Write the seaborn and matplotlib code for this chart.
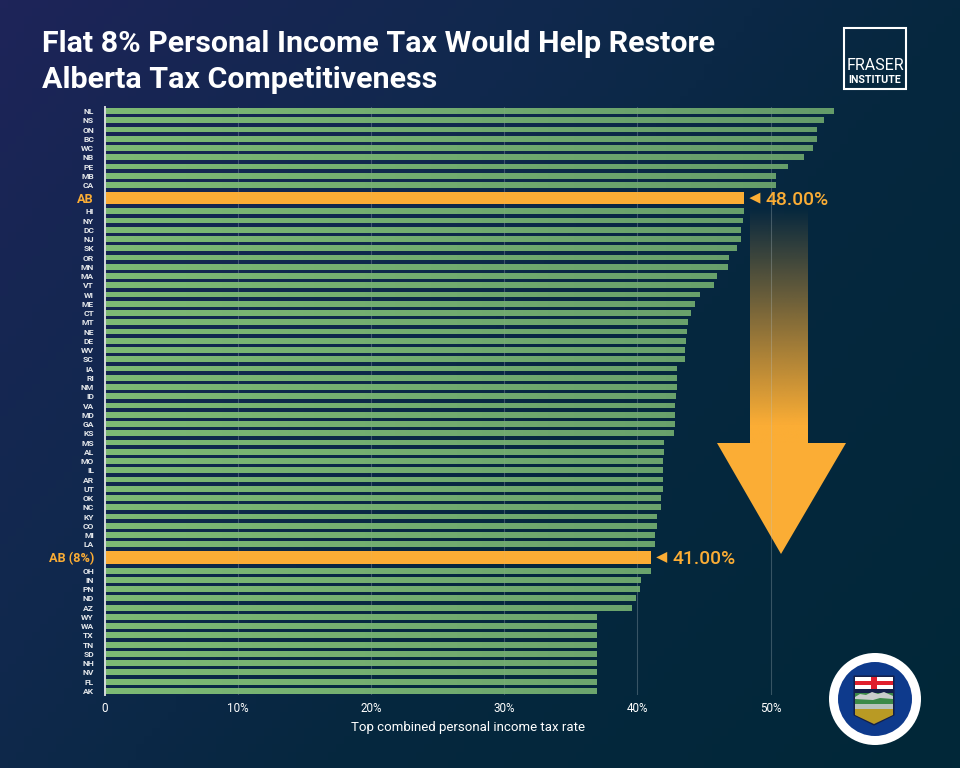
import numpy as np
import matplotlib
matplotlib.use("Agg")
import matplotlib.pyplot as plt
from matplotlib.patches import Circle, Polygon, Rectangle, PathPatch
from matplotlib.path import Path
from matplotlib.colors import LinearSegmentedColormap, to_rgb
import seaborn as sns

# ---------- data ----------
states = ["NL","NS","ON","BC","WC","NB","PE","MB","CA","AB","HI","NY","DC","NJ","SK","OR","MN","MA","VT","WI",
          "ME","CT","MT","NE","DE","WV","SC","IA","RI","NM","ID","VA","MD","GA","KS","MS","AL","MO","IL","AR",
          "UT","OK","NC","KY","CO","MI","LA","AB (8%)","OH","IN","PN","ND","AZ","WY","WA","TX","TN","SD","NH","NV","FL","AK"]
rates = [54.8,54.0,53.5,53.5,53.2,52.5,51.3,50.4,50.4,48.0,48.0,47.95,47.8,47.8,47.5,46.9,46.8,46.0,45.75,44.7,
         44.3,44.0,43.8,43.7,43.65,43.6,43.6,43.0,43.0,42.95,42.9,42.8,42.8,42.8,42.75,42.0,42.0,41.95,41.95,41.95,
         41.9,41.8,41.8,41.5,41.45,41.3,41.3,41.0,41.0,40.3,40.2,39.9,39.6,37.0,37.0,37.0,37.0,37.0,37.0,37.0,37.0,37.0]
highlighted = ["AB", "AB (8%)"]
title_lines = ["Flat 8% Personal Income Tax Would Help Restore", "Alberta Tax Competitiveness"]
xlabel = "Top combined personal income tax rate"
xticks = [0, 10, 20, 30, 40, 50]
xticklabels = ["0", "10%", "20%", "30%", "40%", "50%"]

# ---------- style ----------
ORANGE = "#FBAD35"
GREEN = "#7DBA74"
FONT = "Roboto"
sns.set_theme(style="white")
plt.rcParams["font.family"] = [FONT, "DejaVu Sans"]
W, H = 960, 768
fig = plt.figure(figsize=(W/100, H/100), dpi=100)

# pixel-space backdrop axes
bg = fig.add_axes([0, 0, 1, 1], zorder=0)
bg.set_xlim(0, W); bg.set_ylim(H, 0); bg.axis("off")
yy, xx = np.mgrid[0:1:96j, 0:1:120j]
t = np.clip(xx*0.6 + yy*0.4, 0, 1)
bgcmap = LinearSegmentedColormap.from_list("bg", [(0, "#1E2459"), (0.15, "#172653"), (0.35, "#10294D"), (0.6, "#06273F"), (1, "#012838")])
bg.imshow(t, cmap=bgcmap, extent=(0, W, H, 0), aspect="auto", vmin=0, vmax=1, zorder=0)

# arrow
rgb = to_rgb(ORANGE)
ys = np.linspace(0, 1, 200)[:, None]
shaft = np.zeros((200, 1, 4)); shaft[..., :3] = rgb
shaft[..., 3] = np.clip(ys/0.92, 0, 1)
bg.imshow(shaft, extent=(750, 808, 443, 207), aspect="auto", zorder=1)
bg.add_patch(Polygon([(717, 443), (846, 443), (781, 554)], closed=True, fc=ORANGE, ec="none", zorder=1))
bg.set_xlim(0, W); bg.set_ylim(H, 0)

# logo
bg.add_patch(Rectangle((844, 27.5), 61.5, 61, fc="none", ec="white", lw=1.5, zorder=3))
bg.text(875, 66, "FRASER", color="white", fontsize=11.5, ha="center", va="center", zorder=3)
bg.text(875, 80, "INSTITUTE", color="white", fontsize=7.7, fontweight="bold", ha="center", va="center", zorder=3)

# crest
bg.add_patch(Circle((875, 699), 46, fc="white", ec="none", zorder=3))
bg.add_patch(Circle((875, 699), 37, fc="#0E3A8C", ec="none", zorder=3))
shield = Polygon([(854, 676), (894, 676), (894, 715), (874, 725), (854, 715)], closed=True, fc="#14204A", ec="#14204A", lw=0.8, zorder=4)
bg.add_patch(shield)
def clip_poly(pts, fc, z=5):
    p = Polygon(pts, closed=True, fc=fc, ec="none", zorder=z); bg.add_patch(p); p.set_clip_path(shield); return p
clip_poly([(855, 677), (893, 677), (893, 689), (855, 689)], "white")
clip_poly([(871, 677), (877, 677), (877, 689), (871, 689)], "#E0202E", 6)
clip_poly([(855, 681), (893, 681), (893, 685), (855, 685)], "#E0202E", 6)
clip_poly([(855, 693), (893, 693), (893, 708), (855, 708)], "#3C8A47")
clip_poly([(855, 697), (860, 694), (866, 695), (872, 692), (878, 694), (884, 692), (893, 696), (893, 699), (880, 698), (873, 700), (855, 699)], "#C9CDCB", 6)
clip_poly([(855, 704), (893, 704), (893, 709), (855, 709)], "#B9C3BC", 6)
clip_poly([(855, 709), (893, 709), (893, 715), (874, 724), (855, 715)], "#B99A24", 6)

# ---------- chart ----------
ax = fig.add_axes([105/W, (H-695)/H, (W-105)/W, 588/H], zorder=2)
ax.patch.set_alpha(0)

ROW_PX = 9.25
gap_extra = 0.42
positions, p = [], 0.0
for i, s in enumerate(states):
    if i:
        p += 1.0
        if s in highlighted or states[i-1] in highlighted:
            p += gap_extra
    positions.append(round(p, 3))
kinds = ["hi" if s in highlighted else "base" for s in states]

sns.barplot(x=rates, y=positions, hue=kinds, hue_order=["base", "hi"], palette={"base": GREEN, "hi": ORANGE},
            orient="y", native_scale=True, dodge=False, width=0.64, legend=False, ax=ax, saturation=1,
            linewidth=0, zorder=2)
px_per_pct = 13.31
ax.set_xlim(0, (W-105)/px_per_pct)
y_top = -(111-107)/ROW_PX
ax.set_ylim(y_top + 588/ROW_PX, y_top)

# thicker highlighted bars, rightward fade on green bars
for bar in ax.containers[1]:
    c = bar.get_y() + bar.get_height()/2
    h = 12.5/ROW_PX
    bar.set_y(c - h/2); bar.set_height(h)
verts, codes = [], []
for bar in ax.containers[0]:
    bar.set_edgecolor("none"); bar.set_linewidth(0)
    x0, y0, w, h = bar.get_x(), bar.get_y(), bar.get_width(), bar.get_height()
    verts += [(x0, y0), (x0+w, y0), (x0+w, y0+h), (x0, y0+h), (x0, y0)]
    codes += [Path.MOVETO, Path.LINETO, Path.LINETO, Path.LINETO, Path.CLOSEPOLY]
fade = np.zeros((1, 200, 4)); fade[..., :3] = to_rgb("#0A2B44")
fade[..., 3] = np.linspace(0, 0.22, 200)
xl, yl = ax.get_xlim(), ax.get_ylim()
im = ax.imshow(fade, extent=(0, 55, yl[0], yl[1]), aspect="auto", zorder=3)
im.set_clip_path(PathPatch(Path(verts, codes), transform=ax.transData))
ax.set_xlim(xl); ax.set_ylim(yl)

# axes furniture
sns.despine(ax=ax, top=True, right=True, bottom=True, left=False)
ax.spines["left"].set_color("#D5DADD"); ax.spines["left"].set_linewidth(1.4); ax.spines["left"].set_zorder(6)
for v in xticks[1:]:
    ax.axvline(v, color="#B9C6CC", alpha=0.24, lw=0.8, zorder=1)
    ax.axvline(v, color="#B9C6CC", alpha=0.07, lw=0.8, zorder=5)
ax.set_xticks(xticks, xticklabels, color="white", fontsize=8.4)
ax.set_yticks(positions, states)
ax.tick_params(axis="both", length=0)
ax.tick_params(axis="x", pad=5)
ax.tick_params(axis="y", pad=8)
for lab, s in zip(ax.get_yticklabels(), states):
    if s in highlighted:
        lab.set_color(ORANGE); lab.set_fontsize(9.2); lab.set_fontweight("bold")
    else:
        lab.set_color("#E4E7EA"); lab.set_fontsize(6.1); lab.set_fontweight("bold")
ax.set_xlabel("")
ax.set_ylabel("")
fig.text(468/W, 1-728/H, xlabel, color="white", fontsize=9.55, ha="center", va="center")

# value callouts
for s in highlighted:
    i = states.index(s)
    v, yp = rates[i], positions[i]
    x0 = v + 5.5/px_per_pct
    ax.add_patch(Polygon([(x0, yp), (x0 + 11/px_per_pct, yp - 5.5/ROW_PX), (x0 + 11/px_per_pct, yp + 5.5/ROW_PX)],
                         closed=True, fc=ORANGE, ec="none", zorder=6))
    ax.text(v + 21.5/px_per_pct, yp + 0.2, f"{v:.2f}%", color=ORANGE, fontsize=13.85, fontweight="medium",
            ha="left", va="center", zorder=6)

# title
for line, yc in zip(title_lines, [43.5, 80]):
    fig.text(42/W, 1-yc/H, line, color="white", fontsize=21.9, fontweight="bold", ha="left", va="center")

fig.savefig("out.png", dpi=100)
